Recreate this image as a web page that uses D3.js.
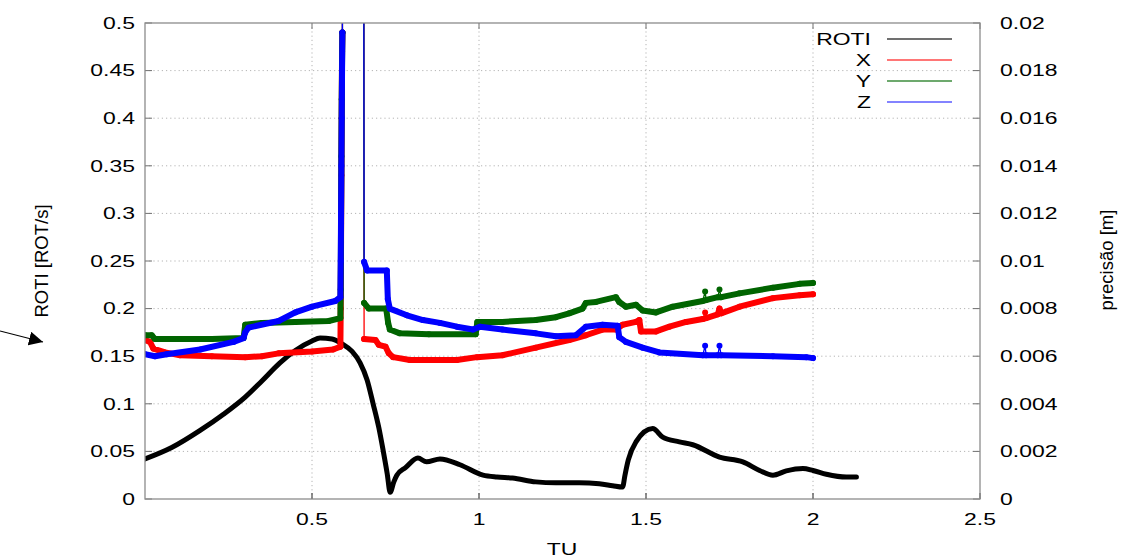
<!DOCTYPE html>
<html>
<head>
<meta charset="utf-8">
<script src="https://cdn.jsdelivr.net/npm/d3@7"></script>
<style>
    body { margin: 0; background: #fff; }
    svg { display: block; }
</style>
</head>
<body>
<svg id="chart"></svg>
<script>
// TU values and ROTI [ROT/s]
let rotiTU = [0, 0.08, 0.165, 0.235, 0.30, 0.35, 0.404, 0.45, 0.50, 0.524, 0.56, 0.59, 0.62, 0.644, 0.665, 0.683, 0.70, 0.713, 0.725, 0.734,
    0.745, 0.754, 0.78, 0.817, 0.843, 0.883, 0.943, 1.012, 1.054, 1.10, 1.17, 1.23, 1.30, 1.36, 1.40, 1.43, 1.437, 1.447, 1.47, 1.52,
    1.55, 1.60, 1.64, 1.72, 1.79, 1.84, 1.88, 1.92, 1.97, 2.00, 2.04, 2.10, 2.13];
let rotiValues = [0.042, 0.054, 0.072, 0.089, 0.107, 0.124, 0.143, 0.156, 0.166, 0.169, 0.168, 0.163, 0.155, 0.143, 0.125, 0.100, 0.075, 0.051, 0.027, 0.007,
    0.018, 0.025, 0.033, 0.043, 0.039, 0.042, 0.036, 0.025, 0.023, 0.022, 0.018, 0.017, 0.017, 0.016, 0.014, 0.0126, 0.025, 0.041, 0.060, 0.074,
    0.065, 0.060, 0.057, 0.044, 0.039, 0.030, 0.025, 0.0295, 0.032, 0.030, 0.026, 0.023, 0.023];

// precisão [m] for X, Y, Z
let xTU = [0, 0.015, 0.025, 0.06, 0.105, 0.2, 0.3, 0.35, 0.4, 0.5, 0.563, 0.585, 0.586, 0.587, 0.588, 0.589, 0.590, 0.591, 0.592,
    0.655, 0.656, 0.69, 0.70, 0.72, 0.73, 0.743, 0.793, 0.934, 0.994, 1.07, 1.17, 1.27, 1.32, 1.37, 1.41, 1.43, 1.47, 1.48, 1.485,
    1.53, 1.57, 1.62, 1.67, 1.677, 1.68, 1.715, 1.72, 1.725, 1.78, 1.88, 1.96, 2.0];
let xValues = [0.00668, 0.0066, 0.00632, 0.00616, 0.00604, 0.006, 0.00596, 0.006, 0.00612, 0.0062, 0.00628, 0.0064, 0.008, 0.0108, 0.0136, 0.016, 0.0188, 0.0196, 0.024,
    0.024, 0.00672, 0.00668, 0.00648, 0.0064, 0.00612, 0.00596, 0.00584, 0.00584, 0.00596, 0.00604, 0.00636, 0.00668, 0.00688, 0.00712, 0.00712, 0.00732, 0.00744, 0.00752, 0.00704,
    0.00704, 0.00724, 0.00744, 0.00756, 0.00784, 0.0076, 0.00776, 0.008, 0.0078, 0.00808, 0.00844, 0.00856, 0.0086];

let yTU = [0, 0.02, 0.03, 0.1, 0.2, 0.295, 0.30, 0.35, 0.45, 0.55, 0.585, 0.586, 0.587, 0.588, 0.589, 0.590, 0.591, 0.592,
    0.655, 0.656, 0.67, 0.722, 0.728, 0.733, 0.763, 0.85, 0.99, 0.995, 1.07, 1.17, 1.23, 1.27, 1.31, 1.32, 1.35, 1.41, 1.42, 1.44,
    1.47, 1.49, 1.53, 1.58, 1.67, 1.677, 1.68, 1.715, 1.72, 1.725, 1.78, 1.88, 1.96, 2.0];
let yValues = [0.00688, 0.00688, 0.00672, 0.00672, 0.00672, 0.00676, 0.00732, 0.0074, 0.00744, 0.00748, 0.0076, 0.0088, 0.0116, 0.0144, 0.0168, 0.0184, 0.0196, 0.024,
    0.024, 0.00824, 0.008, 0.008, 0.0074, 0.00712, 0.00696, 0.00692, 0.00692, 0.00744, 0.00744, 0.00752, 0.00764, 0.0078, 0.008, 0.00824, 0.00828, 0.00848, 0.00828, 0.00808,
    0.00816, 0.00792, 0.00784, 0.00808, 0.00832, 0.00872, 0.00836, 0.00848, 0.0088, 0.00848, 0.00864, 0.00888, 0.00904, 0.00908];

let zTU = [0, 0.03, 0.065, 0.165, 0.265, 0.295, 0.30, 0.31, 0.4, 0.45, 0.5, 0.57, 0.585, 0.586, 0.587, 0.588, 0.589, 0.590, 0.591, 0.592,
    0.655, 0.656, 0.665, 0.724, 0.727, 0.733, 0.784, 0.832, 0.883, 0.934, 0.982, 1.003, 1.07, 1.17, 1.23, 1.29, 1.32, 1.37, 1.415, 1.42,
    1.44, 1.49, 1.54, 1.67, 1.677, 1.68, 1.715, 1.72, 1.725, 1.88, 1.98, 2.0];
let zValues = [0.00608, 0.006, 0.00608, 0.00628, 0.0066, 0.00676, 0.007, 0.0072, 0.00748, 0.00784, 0.00808, 0.00832, 0.00848, 0.01, 0.012, 0.014, 0.016, 0.018, 0.0196, 0.024,
    0.024, 0.00996, 0.0096, 0.0096, 0.0084, 0.008, 0.00772, 0.00752, 0.0074, 0.00724, 0.00712, 0.00724, 0.00712, 0.00696, 0.00684, 0.00688, 0.00724, 0.00732, 0.00728, 0.0068,
    0.0066, 0.00636, 0.00616, 0.00604, 0.00644, 0.00604, 0.00604, 0.00644, 0.00604, 0.006, 0.00596, 0.00592];

let xTicks = [0.5, 1, 1.5, 2, 2.5];
let leftTicks = [0, 0.05, 0.1, 0.15, 0.2, 0.25, 0.3, 0.35, 0.4, 0.45, 0.5];
let rightTicks = [0, 0.002, 0.004, 0.006, 0.008, 0.01, 0.012, 0.014, 0.016, 0.018, 0.02];
let seriesNames = ['ROTI', 'X', 'Y', 'Z'];
let seriesColors = ['#000000', '#ff0000', '#006400', '#0000ff'];
let legendColors = ['#404040', '#ff4848', '#3c8c3c', '#5a5aff'];

let width = 1122, height = 558;
let margin = {top: 23, bot: 59, left: 145, right: 142};
let config = {
    margin: margin,
    bodyWidth: width - margin.left - margin.right,
    bodyHeight: height - margin.top - margin.bot
};
let stretch = 1.35;   // the picture is wider than tall, text is too
let font = '"Liberation Sans", Arial, sans-serif';

let svg = d3.select('#chart').attr('width', width).attr('height', height);

let xScale = d3.scaleLinear().domain([0, 2.5]).range([0, config.bodyWidth]);
let yLeft = d3.scaleLinear().domain([0, 0.5]).range([config.bodyHeight, 0]);
let yRight = d3.scaleLinear().domain([0, 0.02]).range([config.bodyHeight, 0]);

function label(x, y, txt, anchor, size) {
    return svg.append('text')
        .attr('transform', `translate(${x},${y}) scale(${stretch},1)`)
        .attr('text-anchor', anchor)
        .attr('dominant-baseline', 'central')
        .style('font-family', font)
        .style('font-size', size + 'px')
        .attr('fill', '#000')
        .text(txt);
}

let body = svg.append('g')
    .attr('transform', `translate(${margin.left},${margin.top})`);

// dotted grid
body.append('g').selectAll('line')
    .data(leftTicks.slice(1, -1))
    .join('line')
    .attr('x1', 0).attr('x2', config.bodyWidth)
    .attr('y1', d => yLeft(d)).attr('y2', d => yLeft(d))
    .attr('stroke', '#b4b4b4').attr('stroke-dasharray', '1.2,3');
body.append('g').selectAll('line')
    .data(xTicks.slice(0, -1))
    .join('line')
    .attr('x1', d => xScale(d)).attr('x2', d => xScale(d))
    .attr('y1', 0).attr('y2', config.bodyHeight)
    .attr('stroke', '#b4b4b4').attr('stroke-dasharray', '1.2,3');

// tick marks
let tickColor = '#707070';
body.append('g').selectAll('line')
    .data(leftTicks)
    .join('line')
    .attr('x1', 0).attr('x2', 7)
    .attr('y1', d => yLeft(d)).attr('y2', d => yLeft(d))
    .attr('stroke', tickColor);
body.append('g').selectAll('line')
    .data(rightTicks)
    .join('line')
    .attr('x1', config.bodyWidth - 7).attr('x2', config.bodyWidth)
    .attr('y1', d => yRight(d)).attr('y2', d => yRight(d))
    .attr('stroke', tickColor);
body.append('g').selectAll('line')
    .data(xTicks)
    .join('line')
    .attr('x1', d => xScale(d)).attr('x2', d => xScale(d))
    .attr('y1', config.bodyHeight - 6).attr('y2', config.bodyHeight)
    .attr('stroke', '#222');
body.append('g').selectAll('line')
    .data(xTicks)
    .join('line')
    .attr('x1', d => xScale(d)).attr('x2', d => xScale(d))
    .attr('y1', 0).attr('y2', 6)
    .attr('stroke', tickColor);

body.append('defs').append('clipPath')
    .attr('id', 'clip')
    .append('rect')
    .attr('width', config.bodyWidth)
    .attr('height', config.bodyHeight);

let plot = body.append('g').attr('clip-path', 'url(#clip)');

// ROTI on the left axis
let roti = rotiTU.map((t, i) => ({t: t, v: rotiValues[i]}));
plot.append('path')
    .datum(roti)
    .attr('fill', 'none')
    .attr('stroke', seriesColors[0])
    .attr('stroke-width', 5)
    .attr('stroke-linejoin', 'round')
    .attr('stroke-linecap', 'round')
    .attr('d', d3.line().x(d => xScale(d.t)).y(d => yLeft(d.v)).curve(d3.curveMonotoneX));

// a lone point sticking out of its neighbours keeps only the thin line
function isLone(pts, i) {
    if (i == 0 || i == pts.length - 1) return false;
    let p = pts[i - 1], n = pts[i + 1];
    return n.t - p.t < 0.02 && pts[i].v > p.v + 0.0002 && pts[i].v > n.v + 0.0002;
}

// X, Y, Z on the right axis, points + lines
let precision = [[xTU, xValues], [yTU, yValues], [zTU, zValues]];
precision.forEach((s, k) => {
    let pts = s[0].map((t, i) => ({t: t, v: s[1][i]}));
    let band = pts.filter((d, i) => !isLone(pts, i));
    let color = seriesColors[k + 1];
    let line = d3.line().x(d => xScale(d.t)).y(d => yRight(d.v));
    plot.append('path')
        .datum(pts)
        .attr('fill', 'none')
        .attr('stroke', color)
        .attr('stroke-width', 1.3)
        .attr('d', line);
    plot.append('path')
        .datum(band)
        .attr('fill', 'none')
        .attr('stroke', color)
        .attr('stroke-width', 6)
        .attr('stroke-linejoin', 'round')
        .attr('stroke-linecap', 'round')
        .attr('d', line.defined(d => d.v <= 0.02));
    plot.append('g').selectAll('circle')
        .data(pts.filter(d => d.v <= 0.02))
        .join('circle')
        .attr('cx', d => xScale(d.t))
        .attr('cy', d => yRight(d.v))
        .attr('r', 3)
        .attr('fill', color);
});

// frame
body.append('rect')
    .attr('width', config.bodyWidth)
    .attr('height', config.bodyHeight)
    .attr('fill', 'none')
    .attr('stroke', '#8c8c8c')
    .attr('stroke-width', 1.3);

// tick labels
leftTicks.forEach(d => label(margin.left - 10, margin.top + yLeft(d), d3.format('~g')(d), 'end', 17));
rightTicks.forEach(d => label(margin.left + config.bodyWidth + 20, margin.top + yRight(d), d3.format('~g')(d), 'start', 17));
xTicks.forEach(d => label(margin.left + xScale(d), 519, d3.format('~g')(d), 'middle', 17));

// axis titles
label(562, 549, 'TU', 'middle', 17);
svg.append('text')
    .attr('transform', 'translate(41,261) rotate(-90)')
    .attr('text-anchor', 'middle')
    .attr('dominant-baseline', 'central')
    .style('font-family', font)
    .style('font-size', '18.5px')
    .text('ROTI [ROT/s]');
svg.append('text')
    .attr('transform', 'translate(1106,260) rotate(-90)')
    .attr('text-anchor', 'middle')
    .attr('dominant-baseline', 'central')
    .style('font-family', font)
    .style('font-size', '18.5px')
    .text('precisão [m]');

// arrow on the left
svg.append('defs').append('marker')
    .attr('id', 'head')
    .attr('viewBox', '0 0 10 10')
    .attr('refX', 10).attr('refY', 5)
    .attr('markerWidth', 14).attr('markerHeight', 14)
    .attr('markerUnits', 'userSpaceOnUse')
    .attr('orient', 'auto')
    .append('path')
    .attr('d', 'M0,0 L10,5 L0,10 Z')
    .attr('fill', '#000');
svg.append('line')
    .attr('x1', 0).attr('y1', 331)
    .attr('x2', 43).attr('y2', 342)
    .attr('stroke', '#000')
    .attr('stroke-width', 1.2)
    .attr('marker-end', 'url(#head)');

// legend
seriesNames.forEach((name, i) => {
    let ly = 39 + i * 21;
    label(871, ly, name, 'end', 17);
    svg.append('line')
        .attr('x1', 887).attr('x2', 952)
        .attr('y1', ly).attr('y2', ly)
        .attr('stroke', legendColors[i])
        .attr('stroke-width', 1.4);
});
</script>
</body>
</html>
